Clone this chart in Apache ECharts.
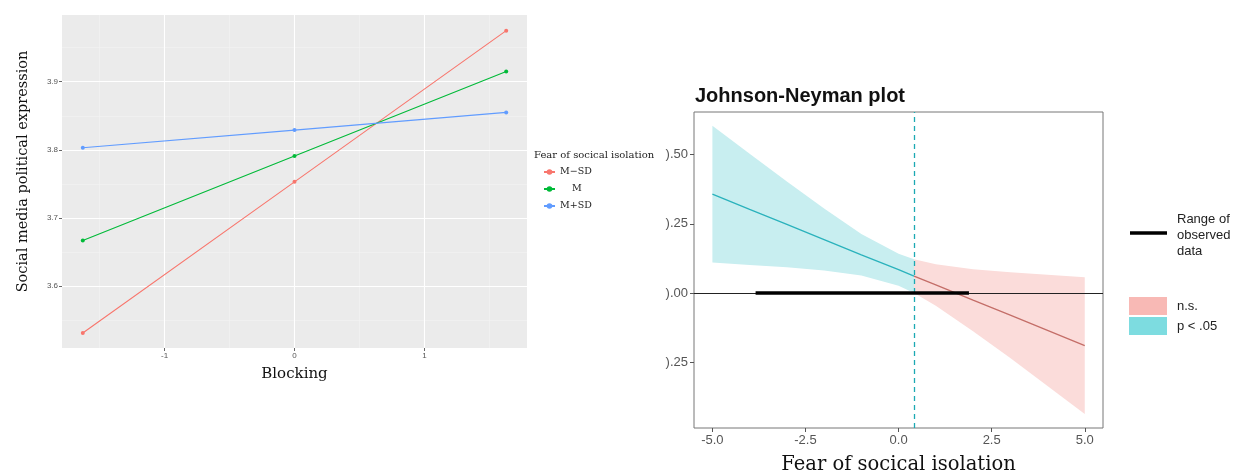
<!DOCTYPE html>
<html><head><meta charset="utf-8">
<script src="https://cdn.jsdelivr.net/npm/echarts@6/dist/echarts.min.js"></script>
<style>html,body{margin:0;padding:0;background:#fff}#c{width:1238px;height:471px}</style>
</head><body><div id="c"></div>
<script>
// ---- Left panel: simple slopes ----
const blockX = [-1.63, 0, 1.63];
const mMinusSD = [3.531, 3.753, 3.975];
const mMean = [3.667, 3.791, 3.915];
const mPlusSD = [3.803, 3.829, 3.855];
const seriesNames = ['M\u2212SD', 'M', 'M+SD'];
const leftXTicks = [-1, 0, 1];
const leftXMinor = [-1.5, -0.5, 0.5, 1.5];
const leftYTicks = [3.6, 3.7, 3.8, 3.9];
const leftYMinor = [3.55, 3.65, 3.75, 3.85, 3.95];

// ---- Right panel: Johnson-Neyman ----
const jnSigX = [-5, -4, -3, -2, -1, 0, 0.415];
const jnSigFit = [0.357, 0.302, 0.248, 0.193, 0.138, 0.084, 0.061];
const jnSigLo = [0.110, 0.101, 0.093, 0.081, 0.063, 0.026, 0.000];
const jnSigHi = [0.604, 0.503, 0.403, 0.305, 0.213, 0.142, 0.122];
const jnNsX = [0.415, 1, 2, 3, 4, 5];
const jnNsFit = [0.061, 0.029, -0.026, -0.080, -0.135, -0.190];
const jnNsLo = [0.000, -0.046, -0.138, -0.235, -0.336, -0.437];
const jnNsHi = [0.122, 0.104, 0.086, 0.075, 0.066, 0.057];
const jnBoundary = 0.415;
const observedRange = [-3.84, 1.89];
const rightXTicks = [-5, -2.5, 0, 2.5, 5];
const rightXLabels = ['-5.0', '-2.5', '0.0', '2.5', '5.0'];
const rightYTicks = [-0.25, 0, 0.25, 0.5];
const rightYLabels = [').25', ').00', ').25', ').50'];

const serif = '"DejaVu Serif", "Liberation Serif", serif';
const sans = '"Liberation Sans", Arial, sans-serif';

function pairs(xs, ys) { return xs.map((x, i) => [x, ys[i]]); }
function bandRows(xs, lo, hi) { return xs.map((x, i) => [x, lo[i], hi[i]]); }
function bandSeries(rows, color) {
  return {
    type: 'custom', xAxisIndex: 1, yAxisIndex: 1, silent: true, z: 1,
    data: rows,
    renderItem: function (params, api) {
      if (params.dataIndex !== 0) return null;
      const top = rows.map(r => api.coord([r[0], r[2]]));
      const bot = rows.slice().reverse().map(r => api.coord([r[0], r[1]]));
      return { type: 'polygon', shape: { points: top.concat(bot) }, style: { fill: color } };
    }
  };
}
const gridLineStyle = { color: '#ffffff', width: 1.1, type: 'solid' };
const minorLineStyle = { color: '#f3f3f3', width: 0.6, type: 'solid' };

const chart = echarts.init(document.getElementById('c'), null, { renderer: 'canvas' });
const leftColors = ['#F8766D', '#00BA38', '#619CFF'];
const leftData = [mMinusSD, mMean, mPlusSD];

const option = {
  animation: false,
  textStyle: { fontFamily: sans },
  grid: [
    { left: 62, top: 15, width: 465, height: 333, show: true, backgroundColor: '#EBEBEB', borderWidth: 0, outerBoundsMode: 'none', containLabel: false },
    { left: 694, top: 112, width: 409, height: 316, show: true, backgroundColor: '#ffffff', borderColor: '#777777', borderWidth: 1, outerBoundsMode: 'none', containLabel: false }
  ],
  title: {
    text: 'Johnson-Neyman plot', left: 690, top: 81,
    textStyle: { fontFamily: sans, fontWeight: 'bold', fontSize: 20, color: '#111' }
  },
  legend: {
    data: seriesNames, orient: 'vertical', left: 538, top: 162, itemGap: 7,
    itemWidth: 11, itemHeight: 7,
    formatter: n => (n === 'M' ? '    M' : n),
    textStyle: { fontFamily: serif, fontSize: 9.5, color: '#222' }
  },
  xAxis: [
    {
      gridIndex: 0, type: 'value', min: -1.79, max: 1.79,
      name: 'Blocking', nameLocation: 'middle', nameGap: 19,
      nameTextStyle: { fontFamily: serif, fontSize: 15, color: '#111' },
      axisLine: { show: false, onZero: false },
      axisTick: { show: true, length: 3, customValues: leftXTicks, lineStyle: { color: '#666' } },
      axisLabel: { customValues: leftXTicks, fontSize: 8, color: '#555', margin: 4 },
      splitLine: { show: false }
    },
    {
      gridIndex: 1, type: 'value', min: -5.494, max: 5.49,
      name: 'Fear of socical isolation', nameLocation: 'middle', nameGap: 27,
      nameTextStyle: { fontFamily: serif, fontSize: 19.5, color: '#111' },
      axisLine: { show: false, onZero: false },
      axisTick: { show: true, length: 4, customValues: rightXTicks, lineStyle: { color: '#555' } },
      axisLabel: {
        customValues: rightXTicks, fontSize: 13, color: '#555', margin: 6,
        formatter: v => rightXLabels[rightXTicks.indexOf(v)]
      },
      splitLine: { show: false }
    }
  ],
  yAxis: [
    {
      gridIndex: 0, type: 'value', min: 3.509, max: 3.998,
      name: 'Social media political expression', nameLocation: 'middle', nameGap: 31,
      nameTextStyle: { fontFamily: serif, fontSize: 14.5, color: '#111', padding: [0, 0, 0, 20] },
      axisLine: { show: false, onZero: false },
      axisTick: { show: true, length: 3, customValues: leftYTicks, lineStyle: { color: '#666' } },
      axisLabel: { customValues: leftYTicks, fontSize: 8, color: '#555', margin: 4,
        formatter: v => v.toFixed(1) },
      splitLine: { show: false }
    },
    {
      gridIndex: 1, type: 'value', min: -0.488, max: 0.654,
      axisLine: { show: false, onZero: false },
      axisTick: { show: true, length: 4, customValues: rightYTicks, lineStyle: { color: '#555' } },
      axisLabel: {
        customValues: rightYTicks, fontSize: 13, color: '#555', margin: 6,
        formatter: v => rightYLabels[rightYTicks.indexOf(v)]
      },
      splitLine: { show: false }
    }
  ],
  graphic: [
    { type: 'text', left: 534, top: 150, style: { text: 'Fear of socical isolation', fontFamily: serif, fontSize: 10, fill: '#222' } },
    { type: 'line', shape: { x1: 1130, y1: 233, x2: 1167, y2: 233 }, style: { stroke: '#000', lineWidth: 3.5 } },
    { type: 'text', left: 1177, top: 211, style: { text: 'Range of\nobserved\ndata', fontFamily: sans, fontSize: 13, lineHeight: 16, fill: '#222' } },
    { type: 'rect', shape: { x: 1129, y: 297, width: 38, height: 18 }, style: { fill: '#F8B9B5' } },
    { type: 'rect', shape: { x: 1129, y: 317, width: 38, height: 18 }, style: { fill: '#7DDCE0' } },
    { type: 'text', left: 1177, top: 300, style: { text: 'n.s.', fontFamily: sans, fontSize: 13, fill: '#222' } },
    { type: 'text', left: 1177, top: 320, style: { text: 'p < .05', fontFamily: sans, fontSize: 13, fill: '#222' } }
  ],
  series: [
    {
      type: 'line', xAxisIndex: 0, yAxisIndex: 0, data: [], silent: true, z: 0,
      markLine: {
        silent: true, symbol: 'none', label: { show: false }, animation: false, z: 1,
        data: leftXMinor.map(v => ({ xAxis: v, lineStyle: minorLineStyle }))
          .concat(leftYMinor.map(v => ({ yAxis: v, lineStyle: minorLineStyle })))
          .concat(leftXTicks.map(v => ({ xAxis: v, lineStyle: gridLineStyle })))
          .concat(leftYTicks.map(v => ({ yAxis: v, lineStyle: gridLineStyle })))
      }
    },
  ].concat(seriesNames.map((n, i) => ({
    name: n, type: 'line', xAxisIndex: 0, yAxisIndex: 0, z: 3,
    data: pairs(blockX, leftData[i]),
    symbol: 'circle', symbolSize: 4, showSymbol: true,
    itemStyle: { color: leftColors[i] },
    lineStyle: { color: leftColors[i], width: 1.1 }
  }))).concat([
    bandSeries(bandRows(jnSigX, jnSigLo, jnSigHi), '#C8EEF0'),
    bandSeries(bandRows(jnNsX, jnNsLo, jnNsHi), '#FBDCDA'),
    {
      type: 'line', xAxisIndex: 1, yAxisIndex: 1, data: pairs(jnSigX, jnSigFit), z: 3,
      symbol: 'none', lineStyle: { color: '#2AB2BC', width: 1.3 }
    },
    {
      type: 'line', xAxisIndex: 1, yAxisIndex: 1, data: pairs(jnNsX, jnNsFit), z: 3,
      symbol: 'none', lineStyle: { color: '#C46E68', width: 1.3 },
      markLine: {
        silent: true, symbol: 'none', label: { show: false },
        data: [
          { yAxis: 0, lineStyle: { color: '#222', width: 1, type: 'solid' } },
          { xAxis: jnBoundary, lineStyle: { color: '#1BA9B3', width: 1.3, type: [5, 4] } }
        ]
      }
    },
    {
      type: 'line', xAxisIndex: 1, yAxisIndex: 1, z: 6,
      data: [[observedRange[0], 0], [observedRange[1], 0]],
      symbol: 'none', lineStyle: { color: '#000', width: 3.5 }
    }
  ])
};
chart.setOption(option);
</script></body></html>
